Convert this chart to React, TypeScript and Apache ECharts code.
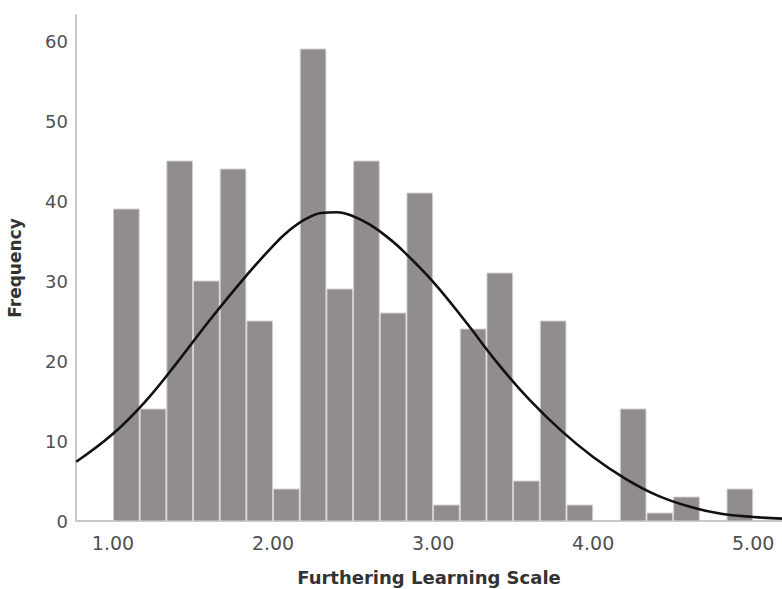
import React, { useEffect, useRef } from "react";
import * as echarts from "echarts";

// Histogram bins: first bin starts at 1.00, each bin is 1/6 wide
const binStart = 1.0;
const binWidth = 1 / 6;
const frequencies = [39, 14, 45, 30, 44, 25, 4, 59, 29, 45, 26, 41, 2, 24, 31, 5, 25, 2, 0, 14, 1, 3, 0, 4];

// Fitted normal curve
const curveX = [0.77, 1.0, 1.2, 1.4, 1.6, 1.8, 2.0, 2.1, 2.2, 2.3, 2.4, 2.5, 2.6, 2.7, 2.8, 3.0, 3.2, 3.4, 3.6, 3.8, 4.0, 4.2, 4.4, 4.6, 4.8, 5.0, 5.18];
const curveY = [7.4, 10.9, 14.9, 19.8, 25.0, 29.9, 34.4, 36.3, 37.7, 38.5, 38.6, 38.1, 37.1, 35.7, 34.0, 29.9, 25.0, 19.8, 15.2, 11.3, 8.0, 5.3, 3.2, 1.8, 0.9, 0.5, 0.3];

const xTicks = [1, 2, 3, 4, 5];
const yTicks = [0, 10, 20, 30, 40, 50, 60];

const xTitle = "Furthering Learning Scale";
const yTitle = "Frequency";

export default function App() {
  const ref = useRef<HTMLDivElement>(null);

  useEffect(() => {
    if (!ref.current) return;
    const chart = echarts.init(ref.current, null, { renderer: "svg" });
    const barData = frequencies.map((f, i) => [
      binStart + i * binWidth,
      binStart + (i + 1) * binWidth,
      f,
    ]);
    const lineData = curveX.map((x, i) => [x, curveY[i]]);
    const font = "DejaVu Sans";

    chart.setOption({
      animation: false,
      backgroundColor: "#ffffff",
      grid: {
        left: 76,
        right: 0,
        top: 15,
        bottom: 68,
        containLabel: false,
        outerBoundsMode: "none",
      },
      xAxis: {
        type: "value",
        min: 0.76875,
        max: 5.18,
        name: xTitle,
        nameLocation: "middle",
        nameGap: 47,
        nameTextStyle: { fontFamily: font, fontSize: 18, fontWeight: "bold", color: "#333" },
        axisLine: { show: true, lineStyle: { color: "#c8c8c8", width: 2 } },
        axisTick: { show: false },
        splitLine: { show: false },
        axisLabel: {
          customValues: xTicks,
          formatter: (v: number) => v.toFixed(2),
          fontFamily: font,
          fontSize: 19,
          color: "#505050",
          margin: 12,
        },
      },
      yAxis: {
        type: "value",
        min: 0,
        max: 63.25,
        name: yTitle,
        nameLocation: "middle",
        nameGap: 53,
        nameTextStyle: { fontFamily: font, fontSize: 17, fontWeight: "bold", color: "#333" },
        axisLine: { show: true, lineStyle: { color: "#c8c8c8", width: 2 } },
        axisTick: { show: false },
        splitLine: { show: false },
        axisLabel: {
          customValues: yTicks,
          formatter: (v: number) => String(v),
          fontFamily: font,
          fontSize: 18,
          color: "#505050",
          margin: 8,
          padding: [5, 0, 0, 0],
        },
      },
      series: [
        {
          type: "custom",
          data: barData,
          encode: { x: [0, 1], y: 2 },
          z: 1,
          renderItem: (params: any, api: any) => {
            const x0 = api.value(0);
            const x1 = api.value(1);
            const v = api.value(2);
            if (!v) return { type: "group", children: [] };
            const p0 = api.coord([x0, v]);
            const p1 = api.coord([x1, 0]);
            return {
              type: "rect",
              shape: {
                x: p0[0] + 0.5,
                y: p0[1],
                width: p1[0] - p0[0] - 1,
                height: p1[1] - p0[1],
              },
              style: { fill: "#928d8d", stroke: "#d3d0d0", lineWidth: 1 },
            };
          },
        },
        {
          type: "line",
          data: lineData,
          smooth: 0.4,
          smoothConstraint: false,
          symbol: "none",
          z: 3,
          lineStyle: { color: "#111111", width: 2.6 },
        },
      ],
    });

    return () => chart.dispose();
  }, []);

  return (
    <div
      ref={ref}
      style={{ position: "absolute", left: 0, top: 0, width: 782, height: 589 }}
    />
  );
}
